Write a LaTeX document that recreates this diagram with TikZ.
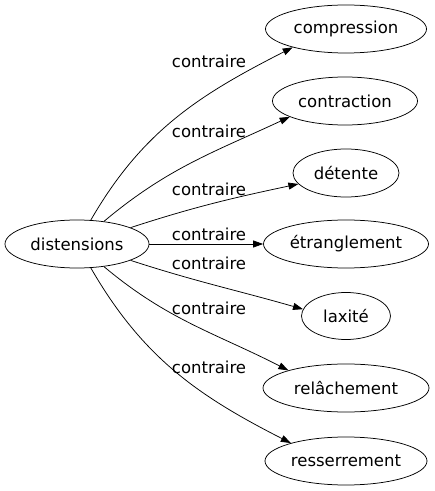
\documentclass[tikz,border=0pt]{standalone}
\usepackage{fontspec}
\setmainfont{DejaVu Sans}
\usetikzlibrary{shapes.geometric,arrows.meta}
\begin{document}
\begin{tikzpicture}[x=1pt,y=1pt,
        word/.style={draw,ellipse,inner sep=0pt,minimum height=48pt,line width=0.75pt,font=\fontsize{16.5}{18}\selectfont},
        rel/.style={font=\fontsize{16.5}{18}\selectfont},
        link/.style={line width=0.75pt,-{Triangle[length=10pt,width=7pt]}}]
        \fill [white] (0,0) rectangle (435,491);
        \useasboundingbox (0,0) rectangle (435,491);
        \node [word,minimum width=144pt] (dist) at (77,247) {distensions};
        \node [word,minimum width=161pt] (cmp) at (346,462) {compression};
        \node [word,minimum width=145pt] (ctr) at (345,390) {contraction};
        \node [word,minimum width=106pt] (det) at (346,318) {détente};
        \node [word,minimum width=165pt] (etr) at (346,247) {étranglement};
        \node [word,minimum width=89pt,minimum height=47pt] (lax) at (346,175) {laxité};
        \node [word,minimum width=166pt] (rlc) at (346,103) {relâchement};
        \node [word,minimum width=162pt] (rss) at (346,30) {resserrement};
        \draw [link] (dist.60) to[out=60,in=207] (cmp.199);
        \draw [link] (dist.40) to[out=40,in=205] (ctr.196);
        \draw [link] (dist.17) to[out=18,in=192] (det.193);
        \draw [link] (dist.east) to (etr.west);
        \draw [link] (dist.-17) to[out=-18,in=164] (lax.171);
        \draw [link] (dist.-40) to[out=-40,in=153] (rlc.163);
        \draw [link] (dist.-60) to[out=-60,in=153] (rss.162);
        \node [rel] (c1) at (209,430) {contraire};
        \node [rel] (c2) at (209,360) {contraire};
        \node [rel] (c3) at (209,302) {contraire};
        \node [rel] (c4) at (209,257) {contraire};
        \node [rel] (c5) at (209,228) {contraire};
        \node [rel] (c6) at (209,183) {contraire};
        \node [rel] (c7) at (209,124) {contraire};
\end{tikzpicture}
\end{document}
